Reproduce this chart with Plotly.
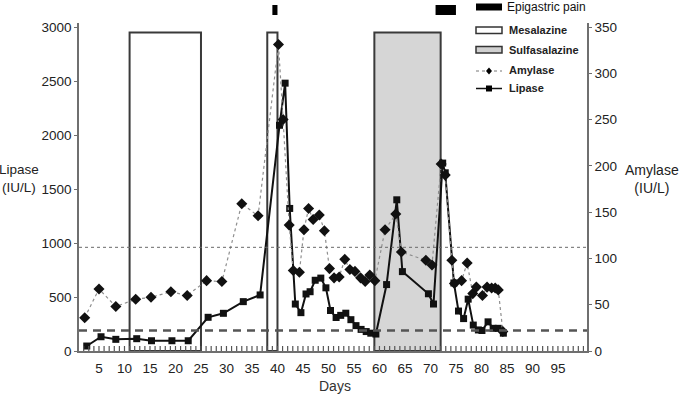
import plotly.graph_objects as go

# ---------------- data ----------------
amylase_days = [2.2, 5, 8.3, 12.2, 15.2, 19.1, 22.3, 26.1, 29.1, 33, 36.2, 40.2, 41.1, 42.3, 43.1,
                44.3, 45.2, 46.1, 47, 48.2, 49.2, 50.2, 51.1, 52.1, 53.2, 54.2, 55.2, 56.3, 57.2,
                58.1, 59.1, 61.1, 63.2, 64.3, 69.1, 70.3, 72.1, 72.9, 74.2, 74.7, 76.1, 77.2,
                78.3, 79.0, 80.2, 81.1, 82.0, 82.7, 83.3, 84.2]
amylase = [36, 67, 48, 56, 58, 64, 60, 76, 75, 159, 146, 331, 250, 136, 87,
           85, 131, 154, 142, 147, 130, 89, 79, 80, 99, 88, 86, 79, 75,
           82, 76, 131, 148, 107, 98, 93, 202, 190, 98, 73, 76, 95,
           62, 69, 60, 69, 68, 68, 66, 21]

lipase_days = [2.6, 5.4, 8.3, 12.4, 15.3, 19.3, 22.5, 26.4, 29.4, 33.3, 36.6, 40.4, 41.5, 42.4,
               43.5, 44.6, 45.6, 46.4, 47.4, 48.5, 49.5, 50.4, 51.5, 52.4, 53.4, 54.4, 55.4,
               56.4, 57.4, 58.3, 59.3, 61.4, 63.4, 64.5, 69.6, 70.6, 72.4, 72.9, 74.6, 75.5,
               76.5, 77.4, 78.4, 79.4, 80.1, 81.3, 82.3, 83.3, 84.3]
lipase = [46, 132, 108, 114, 95, 95, 95, 312, 349, 457, 519, 2090, 2480, 1320,
          435, 355, 528, 549, 655, 675, 585, 375, 310, 330, 350, 290, 235,
          200, 180, 165, 157, 615, 1400, 735, 530, 435, 1740, 1650, 630, 370,
          300, 480, 240, 195, 190, 270, 210, 210, 165]

mesalazine_periods = [(11, 25), (38, 40)]
sulfasalazine_periods = [(59, 72)]
pain_periods = [(39, 40), (71, 75)]
treatment_top = 2950

lipase_upper = 960      # dotted reference line
lipase_normal = 190     # dashed reference line

x_ticks = list(range(5, 100, 5))
left_ticks = list(range(0, 3001, 500))
right_ticks = list(range(0, 351, 50))

# ---------------- layout geometry ----------------
W, H = 686, 396
ML, MR, MT, MB = 79, 99, 23, 45
PW, PH = W - ML - MR, H - MT - MB
LEFT_MAX = 3037
RIGHT_MAX = LEFT_MAX * 350 / 3000
X_RANGE = [1.08, 100.7]


def px(xp):
    return (xp - ML) / PW


def py(yp):
    return (H - MB - yp) / PH


FONT = "Liberation Sans, Arial, sans-serif"
AXC = "#6f6f6f"

fig = go.Figure()

fig.add_trace(go.Scatter(
    x=amylase_days, y=amylase, yaxis="y2", mode="lines+markers", name="Amylase",
    line=dict(color="#8f8f8f", width=1.2, dash="dot"),
    marker=dict(symbol="diamond", size=8.5, color="#111111"),
    showlegend=False, cliponaxis=False))

fig.add_trace(go.Scatter(
    x=lipase_days, y=lipase, yaxis="y", mode="lines+markers", name="Lipase",
    line=dict(color="#111111", width=2),
    marker=dict(symbol="square", size=7, color="#111111"),
    showlegend=False, cliponaxis=False))

shapes = []
for a, b in mesalazine_periods:
    shapes.append(dict(type="rect", xref="x", yref="y", x0=a, x1=b, y0=0, y1=treatment_top,
                       fillcolor="white", line=dict(color="#3a3a3a", width=2), layer="below"))
for a, b in sulfasalazine_periods:
    shapes.append(dict(type="rect", xref="x", yref="y", x0=a, x1=b, y0=0, y1=treatment_top,
                       fillcolor="#d6d6d6", line=dict(color="#3a3a3a", width=2), layer="below"))
for a, b in pain_periods:
    shapes.append(dict(type="rect", xref="x", yref="paper", x0=a, x1=b, y0=py(15), y1=py(5),
                       fillcolor="black", line=dict(color="black", width=0)))

# reference lines
shapes.append(dict(type="line", xref="paper", yref="y", x0=0, x1=1, y0=lipase_upper, y1=lipase_upper,
                   line=dict(color="#6a6a6a", width=1, dash="dot")))
shapes.append(dict(type="line", xref="paper", yref="y", x0=0, x1=1, y0=lipase_normal, y1=lipase_normal,
                   line=dict(color="#555555", width=2.5, dash="8px,6px")))

# manual legend
LX0, LX1, LTX = 476, 502, 507
shapes.append(dict(type="rect", xref="paper", yref="paper", x0=px(LX0), x1=px(LX1), y0=py(10.5), y1=py(3.5),
                   fillcolor="black", line=dict(width=0)))
shapes.append(dict(type="rect", xref="paper", yref="paper", x0=px(LX0), x1=px(LX1), y0=py(33.5), y1=py(27),
                   fillcolor="white", line=dict(color="#333333", width=1.5)))
shapes.append(dict(type="rect", xref="paper", yref="paper", x0=px(LX0), x1=px(LX1), y0=py(53), y1=py(46.5),
                   fillcolor="#d0d0d0", line=dict(color="#333333", width=1.5)))
shapes.append(dict(type="line", xref="paper", yref="paper", x0=px(LX0), x1=px(LX1), y0=py(71), y1=py(71),
                   line=dict(color="#777777", width=1, dash="dot")))
shapes.append(dict(type="path", xref="paper", yref="paper", xsizemode="pixel", ysizemode="pixel",
                   xanchor=px(489), yanchor=py(71), path="M 0 3.5 L 3 0 L 0 -3.5 L -3 0 Z",
                   fillcolor="black", line=dict(width=0)))
shapes.append(dict(type="line", xref="paper", yref="paper", x0=px(LX0), x1=px(LX1), y0=py(88.5), y1=py(88.5),
                   line=dict(color="#111111", width=1.5)))
shapes.append(dict(type="rect", xref="paper", yref="paper", xsizemode="pixel", ysizemode="pixel",
                   xanchor=px(489), yanchor=py(88.5), x0=-3, x1=3, y0=-3, y1=3,
                   fillcolor="black", line=dict(width=0)))

# small inside day ticks on the x axis (one per day, via the x data scale)
for d in range(2, 101):
    shapes.append(dict(type="line", xref="x", yref="paper", ysizemode="pixel", yanchor=0,
                       x0=d, x1=d, y0=0, y1=5, line=dict(color="#555555", width=1.2)))

annotations = [
    dict(text="Epigastric pain", x=px(505), y=py(7), xref="paper", yref="paper", xanchor="left",
         yanchor="middle", showarrow=False, font=dict(family=FONT, size=12, color="#111")),
    dict(text="<b>Mesalazine</b>", x=px(LTX), y=py(30), xref="paper", yref="paper", xanchor="left",
         yanchor="middle", showarrow=False, font=dict(family=FONT, size=11, color="#222")),
    dict(text="<b>Sulfasalazine</b>", x=px(LTX), y=py(50), xref="paper", yref="paper", xanchor="left",
         yanchor="middle", showarrow=False, font=dict(family=FONT, size=11, color="#222")),
    dict(text="<b>Amylase</b>", x=px(LTX), y=py(70), xref="paper", yref="paper", xanchor="left",
         yanchor="middle", showarrow=False, font=dict(family=FONT, size=11, color="#222")),
    dict(text="<b>Lipase</b>", x=px(LTX), y=py(88), xref="paper", yref="paper", xanchor="left",
         yanchor="middle", showarrow=False, font=dict(family=FONT, size=11, color="#222")),
    dict(text="Lipase<br>(IU/L)", x=px(19), y=py(178), xref="paper", yref="paper", xanchor="center",
         yanchor="middle", showarrow=False, font=dict(family=FONT, size=13.5, color="#222")),
    dict(text="Amylase<br>(IU/L)", x=px(652), y=py(179), xref="paper", yref="paper", xanchor="center",
         yanchor="middle", showarrow=False, font=dict(family=FONT, size=14, color="#222")),
    dict(text="Days", x=px(335), y=py(386), xref="paper", yref="paper", xanchor="center",
         yanchor="middle", showarrow=False, font=dict(family=FONT, size=14, color="#333")),
]

tickfont = dict(family=FONT, size=13.5, color="#222")

fig.update_layout(
    width=W, height=H,
    margin=dict(l=ML, r=MR, t=MT, b=MB, pad=0),
    paper_bgcolor="white", plot_bgcolor="white",
    showlegend=False,
    shapes=shapes, annotations=annotations,
    xaxis=dict(range=X_RANGE, tickvals=x_ticks, ticks="", ticklabelstandoff=4,
               showline=True, linecolor=AXC, linewidth=1.5, showgrid=False, zeroline=False,
               tickfont=tickfont),
    yaxis=dict(range=[0, LEFT_MAX], tickvals=left_ticks, ticks="outside", ticklen=3, tickcolor=AXC,
               showline=True, linecolor=AXC, linewidth=1.5, showgrid=False, zeroline=False,
               tickfont=tickfont),
    yaxis2=dict(range=[0, RIGHT_MAX], tickvals=right_ticks, overlaying="y", side="right",
                ticks="outside", ticklen=3, tickcolor=AXC,
                showline=True, linecolor=AXC, linewidth=1.5, showgrid=False, zeroline=False,
                tickfont=tickfont),
)

fig.write_html("out.html")
